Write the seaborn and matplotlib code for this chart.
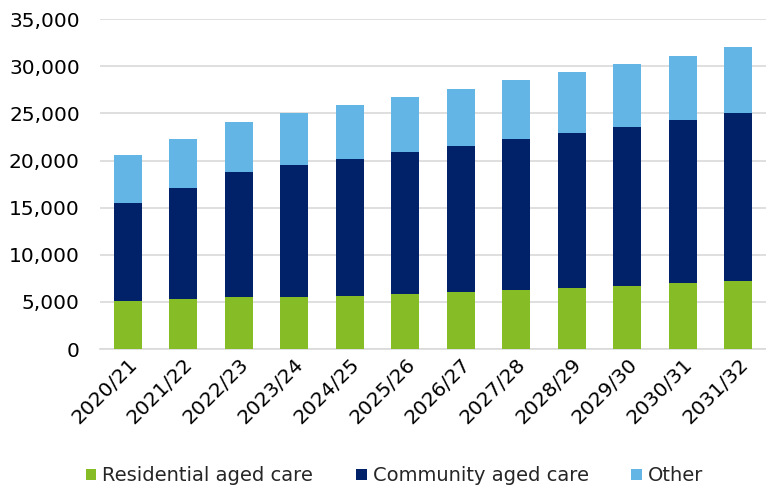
import matplotlib
matplotlib.use("Agg")
import matplotlib.pyplot as plt
import seaborn as sns
import numpy as np
import pandas as pd
from matplotlib.patches import Patch
from matplotlib.ticker import FuncFormatter

years = ["2020/21", "2021/22", "2022/23", "2023/24", "2024/25", "2025/26",
         "2026/27", "2027/28", "2028/29", "2029/30", "2030/31", "2031/32"]
residential = [5100, 5350, 5550, 5490, 5660, 5870, 6050, 6300, 6500, 6720, 6970, 7210]
community = [10450, 11710, 13200, 14040, 14540, 15000, 15490, 15940, 16450, 16890, 17380, 17880]
other = [5050, 5240, 5390, 5530, 5700, 5880, 6060, 6260, 6410, 6590, 6730, 6940]

series_names = ["Residential aged care", "Community aged care", "Other"]
colors = ["#86BC25", "#012169", "#62B5E5"]

sns.set_style("white")
plt.rcParams['font.family'] = ['DejaVu Sans']

df = pd.DataFrame({"year": years, "res": residential, "com": community, "oth": other})
df["c1"] = df["res"]
df["c2"] = df["res"] + df["com"]
df["c3"] = df["c2"] + df["oth"]

fig = plt.figure(figsize=(7.66, 4.91), dpi=100)
ax = fig.add_axes([0.1305, 0.289, 0.8695, 0.672])

for col, c in zip(["c3", "c2", "c1"], colors[::-1]):
    sns.barplot(data=df, x="year", y=col, color=c, width=0.5, ax=ax,
                saturation=1, edgecolor="none", linewidth=0, zorder=3)

ax.set_ylim(0, 35000)
ax.set_xlim(-0.5, 11.5)
ax.set_yticks(np.arange(0, 35001, 5000))
ax.yaxis.set_major_formatter(FuncFormatter(lambda v, p: f"{int(v):,}"))
ax.grid(axis="y", color="#d9d9d9", linewidth=1.2, zorder=0)
ax.set_axisbelow(True)
for s in ["top", "right", "left"]:
    ax.spines[s].set_visible(False)
ax.spines["bottom"].set_color("#d9d9d9")
ax.spines["bottom"].set_linewidth(1.2)
ax.set_xlabel("")
ax.set_ylabel("")
ax.tick_params(axis="both", length=0, labelsize=14.5, colors="black")
ax.tick_params(axis="y", pad=14.5)
ax.tick_params(axis="x", pad=4)
plt.setp(ax.get_xticklabels(), rotation=45, ha="right", rotation_mode="anchor")

handles = [Patch(facecolor=c, edgecolor="none") for c in colors]
fig.legend(handles, series_names, loc="center", bbox_to_anchor=(0.515, 0.031),
           ncol=3, frameon=False, fontsize=14, handlelength=0.55, handleheight=0.55,
           handletextpad=0.3, columnspacing=2.2)

fig.savefig("out.png", dpi=100)
